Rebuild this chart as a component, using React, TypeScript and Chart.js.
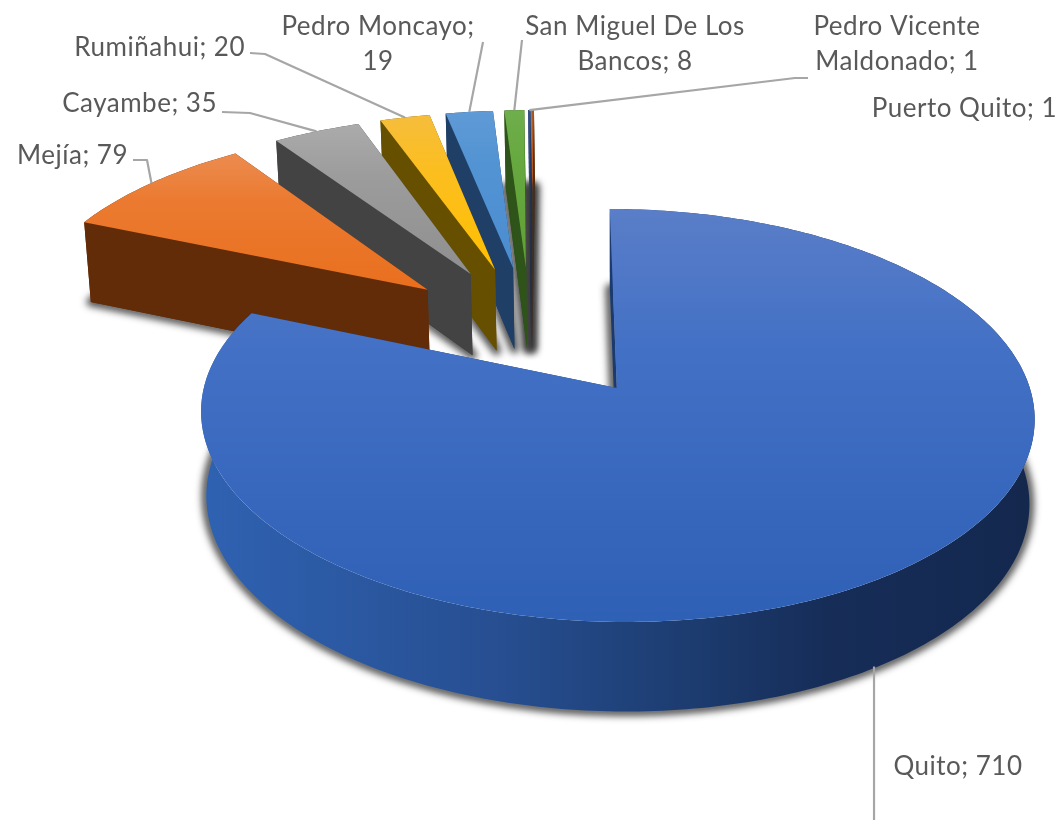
import React, { useEffect, useRef } from "react";
import { Chart, registerables } from "chart.js";

Chart.register(...registerables);

const categories = ["Quito", "Mejía", "Cayambe", "Rumiñahui", "Pedro Moncayo", "San Miguel De Los Bancos", "Pedro Vicente Maldonado", "Puerto Quito"];
const values = [710, 79, 35, 20, 19, 8, 1, 1];
const sliceColors = ["#4472C4", "#ED7D31", "#A5A5A5", "#FFC000", "#5B9BD5", "#70AD47", "#264478", "#9E480E"];
const topLight = ["#5A7EC8", "#EC8C50", "#ABABAB", "#F6BD3C", "#5F9AD6", "#6FAE4C", "#33508A", "#B05A20"];
const topMid = ["#4270C5", "#EB7A30", "#9C9C9C", "#FBBE20", "#5293D3", "#66A83F", "#2B4A80", "#B8551C"];
const topBase = ["#2E60B6", "#E96F1E", "#8F8F8F", "#FFC000", "#4A8DD0", "#5FA136", "#264478", "#C0501A"];
const wallColors = ["#1B3A70", "#632C08", "#434343", "#665000", "#1F3F66", "#2F5419", "#1A2C50", "#5E2B08"];
const labelLines = [["Quito; 710"], ["Mejía; 79"], ["Cayambe; 35"], ["Rumiñahui; 20"], ["Pedro Moncayo;", "19"], ["San Miguel De Los", "Bancos; 8"], ["Pedro Vicente", "Maldonado; 1"], ["Puerto Quito; 1"]];
const labelAlign = ["center", "right", "right", "right", "center", "center", "center", "right"];
const labelX = [958, 128, 217, 245, 378, 635, 897, 1057];
const labelY = [775, 164, 112, 56, 35, 35, 35, 117];
const leaderElbow = [null, [[133, 160], [147, 160]], [[222, 112], [250, 113]], [[250, 53], [265, 54]], [[483, 42]], [[522, 40]], [[808, 78], [795, 78]], null];

const EXPLODE = [0.37, 0.345];
const RADIUS = [1, 1.03];
const NUDGE = [[0, 0], [-0.007, 0.007]];
const VIEW = { camX: 557, horY: 388, rx: 413, ry: 202.8, persp: 0.133, du: -0.06, dv: -0.308, depth: 84, conv: 0.0125 };

function project(u: number, v: number, h = 0) {
  const U = u + VIEW.du;
  const V = v + VIEW.dv;
  const s = 1 / (1 - VIEW.persp * V);
  let x = VIEW.camX + VIEW.rx * U * s;
  let y = VIEW.horY + VIEW.ry * V * s;
  if (h) {
    y += VIEW.depth * Math.pow(s, 0.45) * h;
    x += (VIEW.camX + 60 - x) * VIEW.conv * h;
  }
  return [x, y];
}

function tracePoly(ctx: CanvasRenderingContext2D, pts: number[][], dx = 0) {
  ctx.beginPath();
  pts.forEach((p, i) => (i ? ctx.lineTo(p[0] + dx, p[1]) : ctx.moveTo(p[0] + dx, p[1])));
  ctx.closePath();
}

const pie3d = {
  id: "pie3d",
  beforeDatasetsDraw(chart: any) {
    const ctx: CanvasRenderingContext2D = chart.ctx;
    const arcs = chart.getDatasetMeta(0).data;
    ctx.save();
    for (let i = arcs.length - 1; i >= 0; i--) {
      const { startAngle, endAngle } = arcs[i];
      const mid = (startAngle + endAngle) / 2;
      const g = i ? 1 : 0;
      const e = EXPLODE[g];
      const r = RADIUS[g];
      const ox = e * Math.cos(mid) + NUDGE[g][0];
      const oy = e * Math.sin(mid) + NUDGE[g][1];
      const n = Math.max(2, Math.ceil((endAngle - startAngle) * 60));
      const at = (a: number, h: number) => project(ox + r * Math.cos(a), oy + r * Math.sin(a), h);
      const topArc: number[][] = [];
      const botArc: number[][] = [];
      for (let k = 0; k <= n; k++) {
        const a = startAngle + ((endAngle - startAngle) * k) / n;
        topArc.push(at(a, 0));
        botArc.push(at(a, 1));
      }
      const apexT = project(ox, oy, 0);
      const apexB = project(ox, oy, 1);
      const topPoly = [apexT, ...topArc];
      const xs = topPoly.map((p) => p[0]);
      const ys = topPoly.map((p) => p[1]);
      const minX = Math.min(...xs), maxX = Math.max(...xs), minY = Math.min(...ys), maxY = Math.max(...ys);

      // soft shadow of the underside (shape itself is drawn off-canvas)
      ctx.save();
      const off = 4000;
      ctx.shadowColor = "rgba(50,50,50,0.85)";
      ctx.shadowBlur = 7;
      ctx.shadowOffsetX = off;
      ctx.fillStyle = "#000";
      ctx.strokeStyle = "#000";
      ctx.lineWidth = 9;
      ctx.lineJoin = "round";
      tracePoly(ctx, [apexB, ...botArc], -off);
      ctx.stroke();
      ctx.restore();

      // outer wall
      let wall: any = wallColors[i];
      if (i === 0) {
        wall = ctx.createLinearGradient(minX, 0, maxX, 0);
        wall.addColorStop(0, "#2F62B2");
        wall.addColorStop(0.35, "#274F92");
        wall.addColorStop(0.55, "#1E3F75");
        wall.addColorStop(0.75, "#162D58");
        wall.addColorStop(1, "#14284E");
      }
      ctx.fillStyle = wall;
      tracePoly(ctx, [...topArc, ...botArc.slice().reverse()]);
      ctx.fill();

      // radial walls and underside
      ctx.fillStyle = wallColors[i];
      tracePoly(ctx, [apexB, ...botArc]);
      if (i) ctx.fill();
      tracePoly(ctx, [apexT, topArc[0], botArc[0], apexB]);
      ctx.fill();
      tracePoly(ctx, [apexT, topArc[n], botArc[n], apexB]);
      ctx.fill();

      // top face
      const grad = ctx.createLinearGradient(0, minY, 0, maxY);
      grad.addColorStop(0, topLight[i]);
      grad.addColorStop(0.35, topMid[i]);
      grad.addColorStop(1, topBase[i]);
      ctx.fillStyle = grad;
      tracePoly(ctx, topPoly);
      ctx.fill();
    }
    ctx.restore();
    return false;
  },
  afterDraw(chart: any) {
    const ctx: CanvasRenderingContext2D = chart.ctx;
    const arcs = chart.getDatasetMeta(0).data;
    ctx.save();
    ctx.strokeStyle = "#A6A6A6";
    ctx.lineWidth = 2.2;
    ctx.lineJoin = "round";
    arcs.forEach((arc: any, i: number) => {
      const mid = (arc.startAngle + arc.endAngle) / 2;
      const g = i ? 1 : 0;
      const r = RADIUS[g] + EXPLODE[g];
      const end = project(r * Math.cos(mid) + NUDGE[g][0], r * Math.sin(mid) + NUDGE[g][1], i === 0 ? 1 : 0);
      if (i === 0) {
        ctx.beginPath();
        ctx.moveTo(end[0] - 4, end[1]);
        ctx.lineTo(end[0] - 4, 820);
        ctx.stroke();
      } else if (leaderElbow[i]) {
        const pts = [...(leaderElbow[i] as number[][]), end];
        ctx.beginPath();
        pts.forEach((p, k) => (k ? ctx.lineTo(p[0], p[1]) : ctx.moveTo(p[0], p[1])));
        ctx.stroke();
      }
    });
    ctx.fillStyle = "#595959";
    ctx.font = "26px Lato";
    (ctx as any).letterSpacing = "0.5px";
    ctx.textBaseline = "alphabetic";
    labelLines.forEach((lines, i) => {
      ctx.textAlign = labelAlign[i] as CanvasTextAlign;
      lines.forEach((t, k) => ctx.fillText(t, labelX[i], labelY[i] + k * 35));
    });
    ctx.restore();
  },
};

export default function App() {
  const ref = useRef<HTMLCanvasElement>(null);
  useEffect(() => {
    document.body.style.margin = "0";
    const chart = new Chart(ref.current as HTMLCanvasElement, {
      type: "pie",
      data: { labels: categories, datasets: [{ data: values, backgroundColor: sliceColors, borderWidth: 0 }] },
      options: {
        animation: false,
        responsive: false,
        plugins: { legend: { display: false }, tooltip: { enabled: false } },
      },
      plugins: [pie3d],
    } as any);
    return () => chart.destroy();
  }, []);
  return (
    <div style={{ position: "absolute", left: 0, top: 0, width: 1061, height: 820, background: "#fff" }}>
      <canvas ref={ref} width={1061} height={820} style={{ display: "block" }} />
    </div>
  );
}
